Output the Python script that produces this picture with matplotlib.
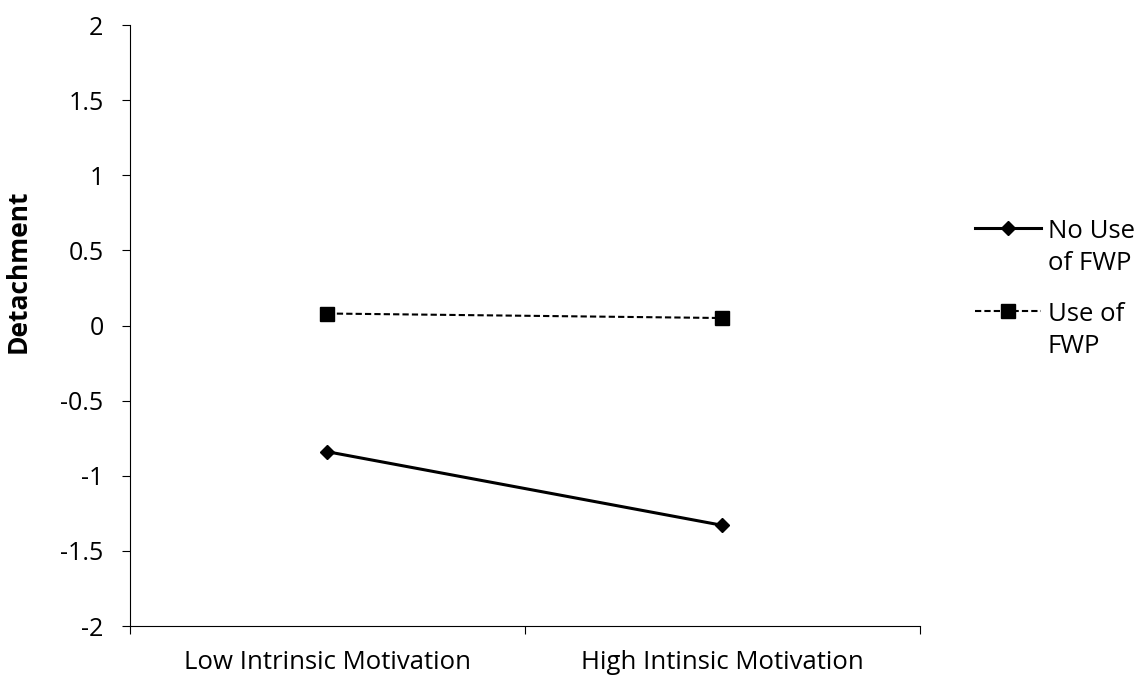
import matplotlib
matplotlib.use("Agg")
import matplotlib.pyplot as plt

plt.rcParams['font.family'] = ['Open Sans', 'DejaVu Sans']

categories = ["Low Intrinsic Motivation", "High Intinsic Motivation"]
no_use = [-0.84, -1.33]
use = [0.08, 0.05]
series_labels = ["No Use\nof FWP", "Use of\nFWP"]

fig = plt.figure(figsize=(11.4, 6.77), dpi=100)
ax = fig.add_axes([0.114, 0.0753, 0.693, 0.8877])

xpos = [0.5, 1.5]
ax.plot(xpos, no_use, color='black', linestyle='-', linewidth=2.2,
        marker='D', markersize=7.5, label=series_labels[0])
ax.plot(xpos, use, color='black', linestyle=(0, (3, 1.5)), linewidth=1.5,
        marker='s', markersize=10, label=series_labels[1])

ax.set_xlim(0, 2)
ax.set_ylim(-2, 2)
ax.set_yticks([-2, -1.5, -1, -0.5, 0, 0.5, 1, 1.5, 2])
ax.set_yticklabels(['-2', '-1.5', '-1', '-0.5', '0', '0.5', '1', '1.5', '2'])
ax.set_xticks([0, 1, 2])
ax.set_xticklabels([])
ax.set_xticks(xpos, minor=True)
ax.set_xticklabels(categories, minor=True)
ax.tick_params(axis='x', which='minor', length=0, pad=17, labelsize=18.5)
ax.tick_params(axis='x', which='major', length=6, width=0.8, direction='out')
ax.tick_params(axis='y', length=6, width=0.8, direction='out', labelsize=18, pad=13)

ax.spines['top'].set_visible(False)
ax.spines['right'].set_visible(False)
ax.spines['left'].set_linewidth(0.8)
ax.spines['bottom'].set_linewidth(0.8)

ax.set_ylabel("Detachment", fontsize=19, fontweight='bold')
ax.yaxis.set_label_coords(-0.125, 0.59)

leg = ax.legend(loc='upper left', bbox_to_anchor=(975 / 1140, 1 - 219 / 677),
                bbox_transform=fig.transFigure, frameon=False, borderpad=0,
                borderaxespad=0, fontsize=18.5, handlelength=2.55,
                handletextpad=0.28, labelspacing=1.0)
for t in leg.get_texts():
    t.set_linespacing(1.37)
# put each legend handle level with the first line of its label
for col in leg._legend_handle_box.get_children():
    for item in col.get_children():
        item.align = "top"

fig.savefig("out.png", dpi=100)
